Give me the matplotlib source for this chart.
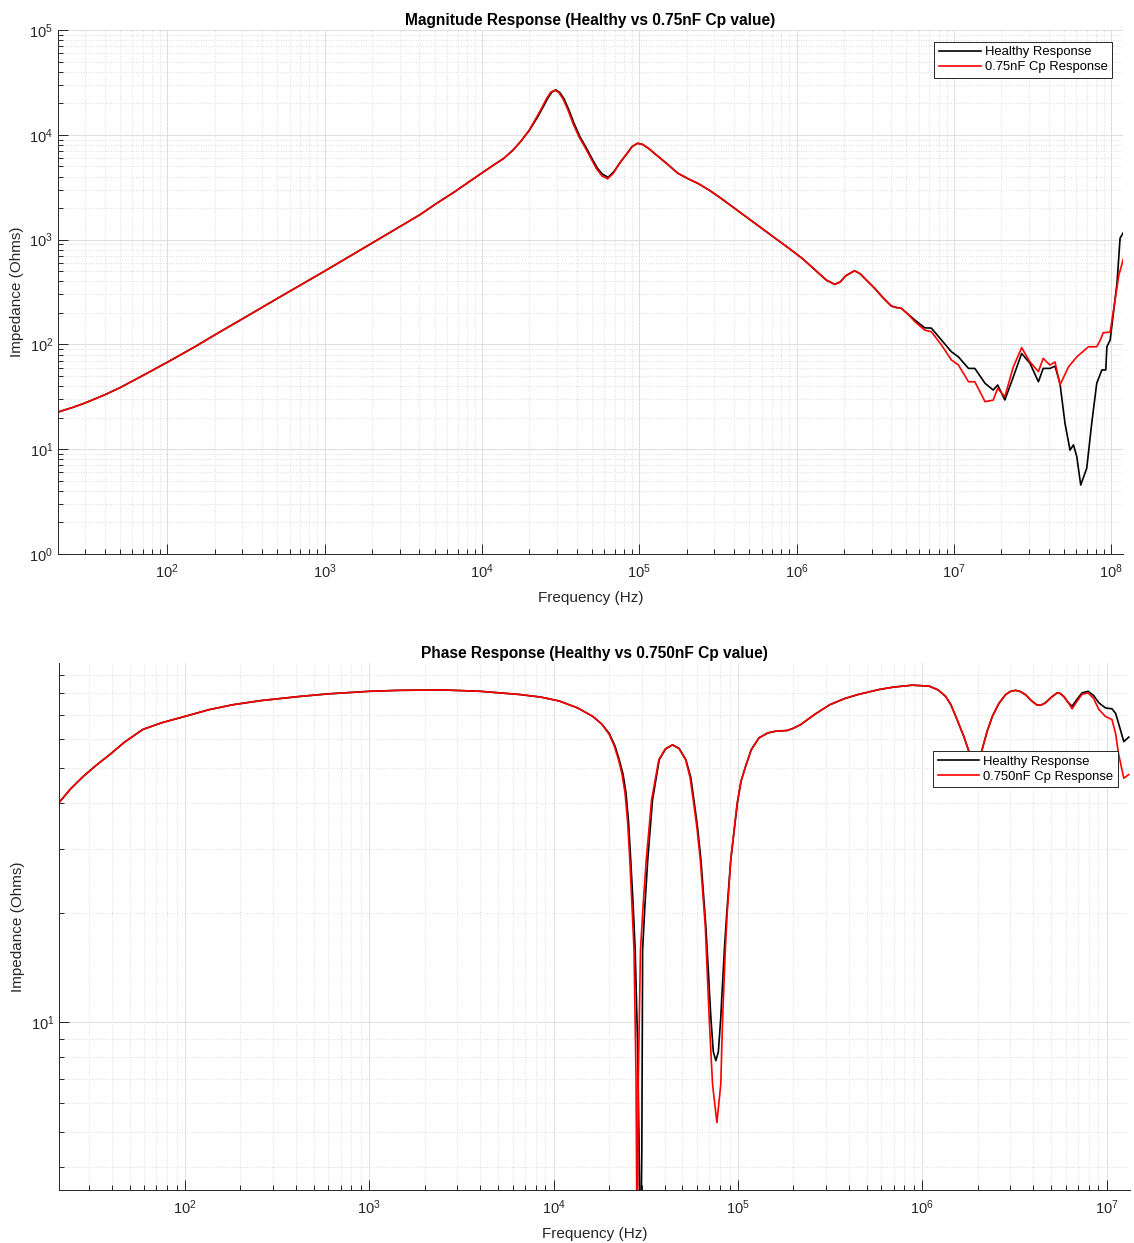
import numpy as np
import matplotlib
matplotlib.use("Agg")
import matplotlib.pyplot as plt
from matplotlib.ticker import LogLocator, NullFormatter

plt.rcParams['font.family'] = ['Liberation Sans', 'DejaVu Sans']
plt.rcParams['mathtext.fontset'] = 'custom'
plt.rcParams['mathtext.rm'] = 'Liberation Sans'
plt.rcParams['mathtext.it'] = 'Liberation Sans:italic'
plt.rcParams['mathtext.bf'] = 'Liberation Sans:bold'

# ---- magnitude data (Hz, Ohms) ----
# low band, both traces overlap
mag_f_low = [20, 25, 30, 40, 50, 70, 100, 150, 200, 300, 500, 1e3, 2e3, 3e3, 4.07e3,
             5e3, 6.64e3, 8e3, 1e4, 1.2e4, 1.38e4, 1.57e4, 1.76e4]
mag_z_low = [22.5, 25.0, 27.6, 33.0, 38.6, 50.5, 67.5, 95, 123, 175, 274, 500, 925, 1325, 1740,
             2150, 2830, 3430, 4320, 5200, 5970, 7100, 8590]

# main resonance region
mag_f_res_h = [2.0e4, 2.25e4, 2.43e4, 2.61e4, 2.78e4, 2.96e4, 3.13e4, 3.33e4, 3.6e4, 3.85e4,
               4.2e4, 4.69e4, 5.05e4, 5.43e4, 5.85e4, 6.35e4, 6.9e4, 7.64e4, 8.6e4, 9.0e4,
               9.77e4, 1.05e5, 1.15e5, 1.25e5, 1.5e5, 1.76e5, 2.05e5, 2.36e5, 2.8e5]
mag_z_res_h = [11000, 14600, 18000, 22000, 25500, 26800, 25300, 22000, 16800, 12900,
               9600, 7160, 5800, 4790, 4200, 3930, 4450, 5540, 7000, 7700,
               8300, 8100, 7400, 6650, 5300, 4300, 3800, 3440, 2950]
mag_f_res_c = [2.0e4, 2.22e4, 2.4e4, 2.57e4, 2.74e4, 2.91e4, 3.08e4, 3.28e4, 3.55e4, 3.79e4,
               4.14e4, 4.62e4, 4.98e4, 5.35e4, 5.8e4, 6.3e4, 6.85e4, 7.6e4, 8.6e4, 9.0e4,
               9.77e4, 1.05e5, 1.15e5, 1.25e5, 1.5e5, 1.76e5, 2.05e5, 2.36e5, 2.8e5]
mag_z_res_c = [11100, 14600, 18000, 22000, 25500, 26700, 25300, 22000, 16800, 12900,
               9600, 7160, 5800, 4750, 4050, 3800, 4300, 5500, 7000, 7700,
               8300, 8100, 7400, 6650, 5300, 4300, 3800, 3440, 2950]

# mid band, overlapping again
mag_f_mid = [3.31e5, 9.25e5, 1.1e6, 1.3e6, 1.55e6, 1.75e6, 1.9e6, 2.05e6, 2.34e6, 2.55e6,
             2.7e6, 3.14e6, 3.5e6, 4.01e6, 4.3e6, 4.64e6, 5.1e6]
mag_z_mid = [2480, 796, 652, 520, 410, 374, 395, 450, 505, 470,
             430, 343, 285, 232, 225, 221, 195]

# high band, traces split
mag_f_hi_h = [5.65e6, 6.53e6, 7.2e6, 8.35e6, 9.66e6, 1.07e7, 1.24e7, 1.36e7, 1.58e7, 1.78e7,
              1.9e7, 2.11e7, 2.39e7, 2.7e7, 3.05e7, 3.45e7, 3.7e7, 4.08e7, 4.4e7, 4.73e7,
              5.09e7, 5.48e7, 5.76e7, 6.05e7, 6.41e7, 7.0e7, 7.53e7, 8.1e7, 8.73e7, 9.25e7,
              9.4e7, 9.86e7, 1.09e8, 1.14e8, 1.2e8]
mag_z_hi_h = [171, 144, 143, 110, 85, 76, 59, 59, 42.5, 36.7,
              41, 29.5, 49, 82, 66, 44, 59, 59, 62, 42.5,
              17.7, 9.8, 11, 8.5, 4.55, 6.6, 17.7, 42.5, 57, 57,
              95, 110, 383, 1030, 1180]
mag_f_hi_c = [5.65e6, 6.53e6, 7.2e6, 8.35e6, 9.66e6, 1.07e7, 1.24e7, 1.36e7, 1.58e7, 1.78e7,
              1.9e7, 2.11e7, 2.39e7, 2.7e7, 3.05e7, 3.45e7, 3.7e7, 4.08e7, 4.4e7, 4.73e7,
              5.36e7, 6.05e7, 7.18e7, 8.1e7, 8.54e7, 8.9e7, 9.86e7, 1.12e8, 1.2e8]
mag_z_hi_c = [165, 137, 132, 98.6, 71, 63.6, 44, 44, 28.4, 29.4,
              38, 31.7, 61, 93, 68, 55, 73.6, 63.6, 68, 41,
              61, 76, 95, 95, 110, 129, 131, 459, 663]

# ---- phase data (Hz, deg) ----
ph_f_low = [20.8, 24, 28, 33, 39, 47, 59, 75, 100, 135, 182, 260, 419, 600, 1e3, 1.46e3,
            2.5e3, 4e3, 6.5e3, 8.5e3, 1.07e4, 1.35e4, 1.63e4, 1.82e4]
ph_low = [40.2, 43.8, 47.3, 50.8, 54.3, 58.8, 63.7, 66.5, 69.2, 72.2, 74.5, 76.5, 78.5, 79.8,
          81.1, 81.6, 81.8, 81.1, 79.5, 78.2, 76.3, 73, 69.2, 66]

ph_f_dip_h = [2.0e4, 2.15e4, 2.27e4, 2.38e4, 2.47e4, 2.55e4, 2.62e4, 2.70e4, 2.77e4, 2.85e4,
              2.91e4, 2.96e4, 3.01e4, 3.04e4, 3.13e4, 3.24e4, 3.44e4, 3.74e4, 4.05e4, 4.42e4,
              4.8e4, 5.22e4, 5.55e4, 5.8e4, 6.05e4, 6.3e4, 6.7e4, 7.13e4, 7.35e4, 7.59e4,
              7.83e4, 8.07e4, 8.45e4, 8.7e4, 9.14e4, 9.93e4, 1.04e5, 1.1e5, 1.18e5, 1.3e5,
              1.45e5, 1.6e5]
ph_dip_h = [62.2, 57.5, 52.6, 48, 42.6, 35.5, 27.9, 21, 15.8, 9,
            4.5, 2, 4.5, 15.8, 21, 27.9, 40.8, 52.6, 56.3, 57.8,
            56.5, 52.6, 47, 40, 34, 27.9, 18.3, 10.3, 8.3, 7.84,
            8.3, 10.3, 16, 20, 27.9, 40, 46, 50.4, 56, 60.4,
            62.3, 63]
ph_f_dip_c = [2.0e4, 2.13e4, 2.25e4, 2.35e4, 2.44e4, 2.52e4, 2.59e4, 2.66e4, 2.73e4, 2.80e4,
              2.84e4, 2.88e4, 2.96e4, 3.06e4, 3.18e4, 3.40e4, 3.72e4, 4.03e4, 4.40e4, 4.78e4,
              5.20e4, 5.5e4, 5.75e4, 6.0e4, 6.25e4, 6.65e4, 6.98e4, 7.28e4, 7.69e4, 8.07e4,
              8.26e4, 8.55e4, 8.75e4, 9.14e4, 9.9e4, 1.04e5, 1.1e5, 1.18e5, 1.3e5, 1.45e5,
              1.6e5]
ph_dip_c = [61.8, 57.5, 52.6, 48, 42.6, 35.5, 27.9, 21, 15.8, 7,
            2, 7, 15.8, 21, 27.9, 40.8, 52.6, 56.3, 57.8, 56.5,
            52.6, 47, 40, 34, 27.9, 18.3, 10.3, 6.76, 5.3, 6.76,
            10.3, 16, 20, 27.9, 40, 46, 50.4, 56, 60.4, 62.3,
            63]

ph_f_mid = [1.85e5, 2.0e5, 2.19e5, 2.6e5, 3.15e5, 3.8e5, 4.5e5, 5.82e5, 7.0e5, 8.83e5,
            1.09e6, 1.22e6, 1.34e6, 1.43e6, 1.52e6, 1.68e6, 1.79e6, 1.95e6, 2.11e6, 2.25e6,
            2.4e6, 2.6e6, 2.83e6, 3.0e6, 3.21e6, 3.4e6, 3.63e6, 3.9e6, 4.2e6, 4.45e6,
            4.66e6, 5.0e6, 5.39e6, 5.6e6, 5.86e6, 6.2e6]
ph_mid = [63.3, 64.2, 65.7, 70, 74.5, 77.5, 79.5, 82, 83.3, 84.3,
          83.8, 81.8, 78.5, 74.5, 69.2, 61, 55.5, 45, 56, 63,
          69.2, 75, 79.4, 81, 81.6, 81, 79.4, 76.5, 74.3, 74.5,
          75.4, 78, 80.3, 80, 78.5, 75.5]

ph_f_hi = [6.5e6, 6.9e6, 7.36e6, 7.94e6, 8.5e6, 9.08e6, 9.86e6, 1.07e7, 1.12e7, 1.16e7,
           1.24e7, 1.32e7]
ph_hi_h = [73.8, 77, 80.3, 81.1, 79, 75.4, 73, 72.6, 70.5, 66.4, 59, 60.7]
ph_hi_c = [72.6, 76, 79.6, 80.3, 77.5, 72.3, 69.2, 67.8, 62, 54.8, 46.8, 47.9]

f_mag_h = np.concatenate([mag_f_low, mag_f_res_h, mag_f_mid, mag_f_hi_h])
z_mag_h = np.concatenate([mag_z_low, mag_z_res_h, mag_z_mid, mag_z_hi_h])
f_mag_c = np.concatenate([mag_f_low, mag_f_res_c, mag_f_mid, mag_f_hi_c])
z_mag_c = np.concatenate([mag_z_low, mag_z_res_c, mag_z_mid, mag_z_hi_c])

f_ph_h = np.concatenate([ph_f_low, ph_f_dip_h, ph_f_mid, ph_f_hi])
p_ph_h = np.concatenate([ph_low, ph_dip_h, ph_mid, ph_hi_h])
f_ph_c = np.concatenate([ph_f_low, ph_f_dip_c, ph_f_mid, ph_f_hi])
p_ph_c = np.concatenate([ph_low, ph_dip_c, ph_mid, ph_hi_c])

W, H = 1134, 1243
fig = plt.figure(figsize=(W / 100, H / 100), dpi=100)
ax1 = fig.add_axes([58 / W, 1 - 554 / H, (1123 - 58) / W, (554 - 30) / H])
ax2 = fig.add_axes([59.3 / W, 1 - 1190 / H, (1130 - 59.3) / W, (1190 - 663) / H])

axcol = '#262626'


def style_axes(ax, xticks, yticks):
    ax.set_xscale('log')
    ax.set_yscale('log')
    for s in ['top', 'right']:
        ax.spines[s].set_visible(False)
    for s in ['left', 'bottom']:
        ax.spines[s].set_color(axcol)
        ax.spines[s].set_linewidth(0.7)
    ax.set_xticks(xticks)
    ax.set_yticks(yticks)
    ax.xaxis.set_minor_locator(LogLocator(base=10, subs=np.arange(2, 10), numticks=30))
    ax.yaxis.set_minor_locator(LogLocator(base=10, subs=np.arange(2, 10), numticks=30))
    ax.xaxis.set_minor_formatter(NullFormatter())
    ax.yaxis.set_minor_formatter(NullFormatter())
    ax.tick_params(which='both', direction='in', colors=axcol, labelsize=10.5,
                   top=False, right=False, width=0.7)
    ax.tick_params(which='major', length=7)
    ax.tick_params(which='minor', length=3.5)
    ax.tick_params(axis='x', pad=6)
    ax.grid(which='major', color='#dedede', lw=0.7, ls='-')
    ax.grid(which='minor', color='#d4d4d4', lw=0.6, ls=(0, (1, 2)))
    ax.set_axisbelow(True)
    ax.set_xlabel('Frequency (Hz)', fontsize=11, color=axcol, labelpad=7)
    ax.set_ylabel('Impedance (Ohms)', fontsize=11, color=axcol, labelpad=4)


def style_legend(leg):
    leg.get_frame().set_edgecolor(axcol)
    leg.get_frame().set_linewidth(0.7)


leg_kw = dict(loc='upper right', borderaxespad=0, fontsize=9.4, handlelength=3.2,
              handletextpad=0.3, labelspacing=0.22, borderpad=0.35, fancybox=False,
              framealpha=1)

# magnitude
style_axes(ax1, [1e2, 1e3, 1e4, 1e5, 1e6, 1e7, 1e8], [1, 1e1, 1e2, 1e3, 1e4, 1e5])
ax1.plot(f_mag_h, z_mag_h, color='k', lw=1.2, label='Healthy Response')
ax1.plot(f_mag_c, z_mag_c, color='r', lw=1.2, label='0.75nF Cp Response')
ax1.set_xlim(20.2, 1.19e8)
ax1.set_ylim(1, 1e5)
ax1.set_title('Magnitude Response (Healthy vs 0.75nF Cp value)', fontsize=11.2,
              fontweight='bold', pad=3.5)
style_legend(ax1.legend(bbox_to_anchor=(0.9897, 0.9777), **leg_kw))

# phase
style_axes(ax2, [1e2, 1e3, 1e4, 1e5, 1e6, 1e7], [1e1])
ax2.plot(f_ph_h, p_ph_h, color='k', lw=1.2, label='Healthy Response')
ax2.plot(f_ph_c, p_ph_c, color='r', lw=1.2, label='0.750nF Cp Response')
ax2.set_xlim(20.8, 1.34e7)
ax2.set_ylim(3.46, 97)
ax2.set_title('Phase Response (Healthy vs 0.750nF Cp value)', fontsize=11.2,
              fontweight='bold', pad=3.5)
style_legend(ax2.legend(bbox_to_anchor=(0.9888, 0.833), **leg_kw))

fig.savefig('out.png', dpi=100)
